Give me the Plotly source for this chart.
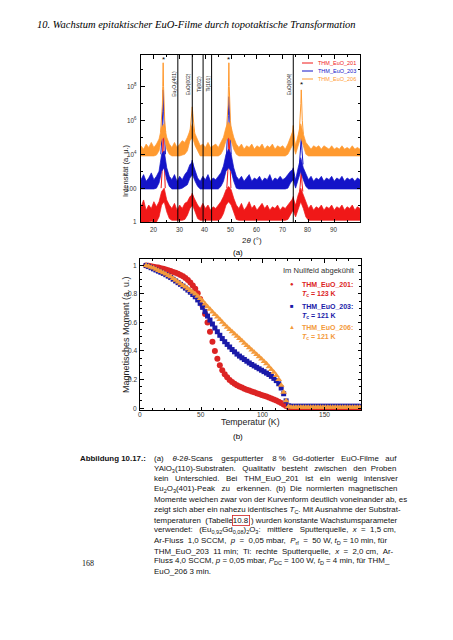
import plotly.graph_objects as go

# The page body adds an 8 px margin around the figure; positions below are
# given in reference-page pixels and converted with that offset.
OFF = 8
W, H = 453 - 2 * OFF, 640 - 2 * OFF
def px(x): return (x - OFF) / W
def py(y): return 1 - (y - OFF) / H

# ---------------- (a) XRD scans, log10 intensity ----------------
tt_grid = list(range(15, 101))

orange_hi = [4.5, 4.3, 4.6, 4.4, 4.7, 4.4, 4.6, 4.9, 5.6, 5.8,
             5.0, 4.6, 4.4, 4.7, 4.4, 4.6, 4.8, 4.7, 5.0, 5.4,
             5.8, 5.2, 4.8, 4.5, 4.6, 4.4, 4.7, 4.4, 4.5, 4.6,
             4.4, 4.7, 5.0, 5.6, 5.9, 5.6, 5.0, 4.6, 4.4, 4.6,
             4.3, 4.5, 4.4, 4.6, 4.3, 4.5, 4.4, 4.6, 4.3, 4.5,
             4.4, 4.6, 4.3, 4.5, 4.4, 4.5, 4.3, 4.6, 5.0, 5.4,
             4.5, 5.2, 5.8, 5.2, 4.7, 4.5, 4.3, 4.5, 4.4, 4.5,
             4.3, 4.5, 4.4, 4.3, 4.5, 4.3, 4.4, 4.3, 4.5, 4.3,
             4.4, 4.3, 4.5, 4.3, 4.4, 4.3]
orange_lo = [3.9, 3.9, 3.9, 3.9, 3.9, 3.9, 3.95, 4.2, 4.9, 5.0,
             4.3, 4.0, 3.9, 3.9, 3.9, 3.9, 3.95, 4.0, 4.2, 4.8,
             5.0, 4.5, 4.2, 3.9, 3.9, 3.9, 3.9, 3.9, 3.9, 3.9,
             3.9, 4.0, 4.3, 4.8, 5.0, 4.8, 4.3, 4.0, 3.9, 3.9,
             3.9, 3.9, 3.9, 3.9, 3.9, 3.9, 3.9, 3.9, 3.9, 3.9,
             3.9, 3.9, 3.9, 3.9, 3.9, 3.9, 3.9, 4.0, 4.3, 4.6,
             4.0, 4.5, 5.0, 4.5, 4.0, 3.9, 3.9, 3.9, 3.9, 3.9,
             3.9, 3.9, 3.9, 3.9, 3.9, 3.9, 3.9, 3.9, 3.9, 3.9,
             3.9, 3.9, 3.9, 3.9, 3.9, 3.9]
blue_hi = [2.5, 2.8, 2.4, 2.6, 2.9, 2.5, 2.7, 3.0, 4.0, 4.2,
           3.2, 2.7, 2.5, 2.8, 2.4, 2.7, 2.5, 2.8, 3.0, 3.4,
           3.5, 3.0, 2.6, 2.4, 2.7, 2.5, 2.8, 2.4, 2.6, 2.5,
           2.7, 2.9, 3.3, 4.0, 4.3, 4.0, 3.2, 2.7, 2.5, 2.7,
           2.4, 2.6, 2.8, 2.4, 2.6, 2.5, 2.7, 2.4, 2.6, 2.5,
           2.8, 2.4, 2.6, 2.5, 2.7, 2.5, 2.6, 2.8, 3.0, 3.1,
           2.5, 3.2, 3.8, 3.2, 2.8, 2.5, 2.7, 2.4, 2.6, 2.5,
           2.7, 2.4, 2.6, 2.5, 2.7, 2.4, 2.6, 2.5, 2.7, 2.4,
           2.6, 2.5, 2.6, 2.4, 2.6, 2.5]
blue_lo = [1.95, 1.95, 1.95, 1.95, 1.95, 1.95, 2.0, 2.3, 3.0, 3.2,
           2.5, 2.1, 1.95, 1.95, 1.95, 1.95, 2.0, 2.1, 2.2, 2.6,
           2.8, 2.4, 2.1, 1.95, 1.95, 1.95, 1.95, 1.95, 1.95, 1.95,
           1.95, 2.1, 2.4, 3.0, 3.2, 3.0, 2.4, 2.0, 1.95, 1.95,
           1.95, 1.95, 1.95, 1.95, 1.95, 1.95, 1.95, 1.95, 1.95, 1.95,
           1.95, 1.95, 1.95, 1.95, 1.95, 1.95, 1.95, 2.0, 2.3, 2.5,
           2.0, 2.5, 3.0, 2.5, 2.1, 1.95, 1.95, 1.95, 1.95, 1.95,
           1.95, 1.95, 1.95, 1.95, 1.95, 1.95, 1.95, 1.95, 1.95, 1.95,
           1.95, 1.95, 1.95, 1.95, 1.95, 1.95]
red_hi = [0.9, 1.3, 0.7, 1.0, 0.8, 1.2, 0.9, 1.2, 1.8, 2.0,
          1.3, 1.0, 0.8, 1.1, 0.7, 1.0, 0.8, 1.1, 1.2, 1.5,
          1.6, 1.3, 1.0, 0.8, 1.1, 0.8, 1.0, 0.7, 0.9, 0.8,
          1.0, 1.2, 1.5, 1.9, 2.1, 1.9, 1.4, 1.0, 0.8, 1.1,
          0.7, 0.9, 1.2, 0.8, 1.0, 0.7, 0.9, 1.1, 0.8, 1.0,
          0.7, 0.9, 0.8, 1.0, 0.7, 0.9, 0.8, 1.0, 1.2, 1.4,
          1.0, 1.6, 2.0, 1.6, 1.1, 0.8, 1.0, 0.7, 0.9, 0.8,
          1.0, 0.7, 0.9, 0.8, 1.0, 0.7, 0.9, 0.8, 1.0, 0.7,
          0.9, 0.8, 1.0, 0.7, 0.9, 0.8]
red_lo = [0.0, 0.0, 0.0, 0.0, 0.05, 0.0, 0.0, 0.3, 1.0, 1.2,
          0.6, 0.2, 0.1, 0.1, 0.1, 0.1, 0.1, 0.15, 0.4, 0.8,
          1.0, 0.6, 0.2, 0.1, 0.1, 0.1, 0.1, 0.1, 0.1, 0.1,
          0.1, 0.2, 0.5, 1.0, 1.2, 1.0, 0.5, 0.15, 0.1, 0.1,
          0.1, 0.1, 0.1, 0.1, 0.1, 0.1, 0.1, 0.1, 0.1, 0.1,
          0.1, 0.1, 0.1, 0.1, 0.1, 0.1, 0.1, 0.15, 0.4, 0.7,
          0.3, 0.8, 1.2, 0.8, 0.3, 0.1, 0.1, 0.1, 0.1, 0.1,
          0.1, 0.1, 0.1, 0.1, 0.1, 0.1, 0.1, 0.1, 0.1, 0.1,
          0.1, 0.1, 0.1, 0.1, 0.1, 0.1]

# peak profiles (None separates peaks)
orange_pk_tt = [22.6, 23.0, 23.3, 23.45, 23.6, 23.75, 23.9, 24.2, 24.6, None,
                34.0, 34.4, 34.7, 34.9, 35.1, 35.4, 35.8, None,
                48.1, 48.5, 48.8, 48.95, 49.1, 49.25, 49.4, 49.7, 50.1, None,
                73.5, 73.9, 74.1, 74.3, 74.7, None,
                76.4, 76.8, 77.05, 77.2, 77.35, 77.6, 78.0]
orange_pk_lg = [5.3, 6.0, 6.9, 8.0, 9.4, 8.0, 6.9, 6.0, 5.3, None,
                5.3, 5.9, 6.4, 6.8, 6.4, 5.9, 5.3, None,
                5.3, 6.0, 6.9, 8.0, 9.4, 8.0, 6.9, 6.0, 5.3, None,
                4.9, 5.4, 5.7, 5.3, 4.6, None,
                5.2, 6.0, 7.0, 7.8, 7.0, 6.0, 5.2]
blue_pk_tt = [22.7, 23.1, 23.4, 23.6, 23.8, 24.1, 24.5, None,
              34.2, 34.6, 34.9, 35.2, 35.6, None,
              48.2, 48.6, 48.9, 49.1, 49.3, 49.6, 50.0, None,
              73.6, 74.1, 74.6, None,
              76.5, 76.9, 77.2, 77.5, 77.9]
blue_pk_lg = [4.0, 5.0, 6.5, 7.8, 6.5, 5.0, 4.0, None,
              3.2, 3.5, 3.65, 3.4, 3.0, None,
              4.0, 5.0, 6.3, 7.4, 6.3, 5.0, 4.0, None,
              2.9, 3.2, 2.7, None,
              3.4, 4.2, 5.0, 4.2, 3.4]
red_pk_tt = [22.8, 23.2, 23.6, 24.0, 24.4, None,
             34.3, 34.9, 35.5, None,
             48.3, 48.7, 49.1, 49.5, 49.9, None,
             73.7, 74.1, 74.5, None,
             76.6, 76.9, 77.2, 77.5, 77.8]
red_pk_lg = [2.0, 3.0, 5.5, 3.0, 2.0, None,
             1.4, 1.7, 1.4, None,
             2.0, 3.0, 5.5, 3.0, 2.0, None,
             1.2, 1.5, 1.1, None,
             1.8, 2.3, 3.0, 2.3, 1.8]

ref_lines_tt = [29.3, 34.9, 39.1, 42.4, 74.1]
ref_lines_lbl = ["Eu<sub>2</sub>O<sub>3</sub>(401)", "EuO(002)", "Ti(002)", "Ti(101)", "EuO(004)"]
substrate_tt = [23.6, 49.1, 77.2]
substrate_star_lg = [9.62, 9.62, 8.12]

xrd_x_ticks = [20, 30, 40, 50, 60, 70, 80, 90]
xrd_y_tick_exp = [0, 2, 4, 6, 8]
xrd_y_tick_txt = ["1", "100", "10<sup>4</sup>", "10<sup>6</sup>", "10<sup>8</sup>"]

series_names = ["THM_EuO_201", "THM_EuO_203", "THM_EuO_206"]
col_a = ["#f01818", "#1414c8", "#ff9a30"]

# ---------------- (b) normalized magnetic moment ----------------
temp_K = list(range(5, 181, 2))
m_201 = [1.000, 0.997, 0.994, 0.991, 0.988, 0.985, 0.981, 0.977, 0.972, 0.966,
         0.960, 0.954, 0.948, 0.941, 0.933, 0.924, 0.912, 0.897, 0.880, 0.860,
         0.836, 0.805, 0.765, 0.715, 0.660, 0.600, 0.535, 0.465, 0.400, 0.345,
         0.300, 0.265, 0.237, 0.215, 0.197, 0.182, 0.170, 0.160, 0.151, 0.143,
         0.135, 0.128, 0.122, 0.116, 0.110, 0.104, 0.098, 0.092, 0.086, 0.080,
         0.074, 0.067, 0.060, 0.052, 0.044, 0.035, 0.025, 0.014, 0.006,
         0.004, 0.004, 0.004, 0.004, 0.004, 0.004, 0.004, 0.004, 0.004, 0.004,
         0.004, 0.004, 0.004, 0.004, 0.004, 0.004, 0.004, 0.004, 0.004, 0.004,
         0.004, 0.004, 0.004, 0.004, 0.004, 0.004, 0.004, 0.004, 0.004]
m_203 = [1.000, 0.992, 0.984, 0.976, 0.968, 0.960, 0.952, 0.944, 0.935, 0.925,
         0.915, 0.903, 0.891, 0.879, 0.867, 0.855, 0.841, 0.827, 0.812, 0.796,
         0.780, 0.758, 0.734, 0.706, 0.676, 0.645, 0.617, 0.589, 0.561, 0.535,
         0.510, 0.487, 0.465, 0.446, 0.428, 0.410, 0.394, 0.378, 0.364, 0.352,
         0.340, 0.328, 0.316, 0.305, 0.295, 0.285, 0.275, 0.265, 0.255, 0.245,
         0.235, 0.222, 0.208, 0.192, 0.170, 0.140, 0.100, 0.050, 0.015,
         0.012, 0.012, 0.012, 0.012, 0.012, 0.012, 0.012, 0.012, 0.012, 0.012,
         0.012, 0.012, 0.012, 0.012, 0.012, 0.012, 0.012, 0.012, 0.012, 0.012,
         0.012, 0.012, 0.012, 0.012, 0.012, 0.012, 0.012, 0.012, 0.012]
m_206 = [1.000, 0.994, 0.988, 0.982, 0.973, 0.965, 0.957, 0.949, 0.940, 0.930,
         0.920, 0.908, 0.896, 0.884, 0.872, 0.860, 0.848, 0.836, 0.824, 0.812,
         0.800, 0.784, 0.768, 0.750, 0.730, 0.710, 0.692, 0.674, 0.656, 0.638,
         0.620, 0.602, 0.584, 0.566, 0.550, 0.535, 0.519, 0.503, 0.487, 0.471,
         0.455, 0.439, 0.423, 0.407, 0.391, 0.375, 0.359, 0.343, 0.327, 0.310,
         0.290, 0.270, 0.250, 0.228, 0.200, 0.160, 0.110, 0.050, 0.010,
         0.006, 0.006, 0.006, 0.006, 0.006, 0.006, 0.006, 0.006, 0.006, 0.006,
         0.006, 0.006, 0.006, 0.006, 0.006, 0.006, 0.006, 0.006, 0.006, 0.006,
         0.006, 0.006, 0.006, 0.006, 0.006, 0.006, 0.006, 0.006, 0.006]
mag_x_ticks = [0, 50, 100, 150]
mag_y_ticks = [0, 0.2, 0.4, 0.6, 0.8, 1.0]
mag_y_tick_txt = ["0", "0.2", "0.4", "0.6", "0.8", "1"]
tc_labels = ["123 K", "121 K", "121 K"]
col_b = ["#dc2424", "#1a1aa8", "#f39a3c"]
sym_b = ["circle", "square", "triangle-up"]
size_b = [6, 5, 6]
sym_txt = ["●", "■", "▲"]

# ---------------- text-width helper (Liberation Sans = Arial metrics) ----------------
_AW = {' ': 278, '!': 278, '%': 889, '(': 333, ')': 333, ',': 278, '-': 333, '.': 278,
       ':': 278, ';': 278, '=': 584, '_': 556, '°': 400, 'θ': 556, 'ä': 556, 'ü': 556,
       'A': 667, 'B': 667, 'C': 722, 'D': 722, 'E': 667, 'F': 611, 'G': 778, 'H': 722,
       'I': 278, 'J': 500, 'K': 667, 'L': 556, 'M': 833, 'N': 722, 'O': 778, 'P': 667,
       'Q': 778, 'R': 722, 'S': 667, 'T': 611, 'U': 722, 'V': 667, 'W': 944, 'X': 667,
       'Y': 667, 'Z': 611, 'a': 556, 'b': 556, 'c': 500, 'd': 556, 'e': 556, 'f': 278,
       'g': 556, 'h': 556, 'i': 222, 'j': 222, 'k': 500, 'l': 222, 'm': 833, 'n': 556,
       'o': 556, 'p': 556, 'q': 556, 'r': 333, 's': 500, 't': 278, 'u': 556, 'v': 500,
       'w': 722, 'x': 500, 'y': 500, 'z': 500}

def text_width(s, fs):
    w, i, scale = 0.0, 0, 1.0
    while i < len(s):
        if s[i] == '<':
            j = s.index('>', i)
            tag = s[i + 1:j]
            if tag == 'sub':
                scale = 0.7
            elif tag == '/sub':
                scale = 1.0
            i = j + 1
            continue
        w += _AW.get(s[i], 556) * scale
        i += 1
    return w * fs / 1000.0

def justify(s, fs, target):
    words = s.split(' ')
    gaps = len(words) - 1
    if gaps <= 0:
        return s
    extra = target - text_width(s, fs)
    n = int(round(extra / (0.278 * fs)))
    if n <= 0:
        return s
    out = words[0]
    for k, wd in enumerate(words[1:]):
        add = n // gaps + (1 if k < n % gaps else 0)
        out += ' ' + '\u00a0' * add + wd
    return out

# ---------------- build figure ----------------
fig = go.Figure()

def lg(vals):
    return [None if v is None else 10 ** v for v in vals]

for lo, hi, ptt, plg, c in [(red_lo, red_hi, red_pk_tt, red_pk_lg, col_a[0]),
                            (blue_lo, blue_hi, blue_pk_tt, blue_pk_lg, col_a[1]),
                            (orange_lo, orange_hi, orange_pk_tt, orange_pk_lg, col_a[2])]:
    fig.add_trace(go.Scatter(x=tt_grid, y=lg(lo), mode="lines", line=dict(color=c, width=0.7),
                             xaxis="x", yaxis="y", hoverinfo="skip"))
    fig.add_trace(go.Scatter(x=tt_grid, y=lg(hi), mode="lines", line=dict(color=c, width=0.7),
                             fill="tonexty", fillcolor=c, xaxis="x", yaxis="y", hoverinfo="skip"))
    fig.add_trace(go.Scatter(x=ptt, y=lg(plg), mode="lines", line=dict(color=c, width=1.0),
                             connectgaps=False, xaxis="x", yaxis="y", hoverinfo="skip"))

for m, c, s, sz in zip([m_201, m_203, m_206], col_b, sym_b, size_b):
    fig.add_trace(go.Scatter(x=temp_K, y=m, mode="markers", xaxis="x2", yaxis="y2",
                             marker=dict(symbol=s, size=sz, color=c, line=dict(width=0)),
                             hoverinfo="skip"))

sans = "Liberation Sans, Arial, sans-serif"
serif = "Liberation Serif, Times New Roman, serif"

axis_common = dict(showline=True, linecolor="black", linewidth=1, mirror="ticks",
                   ticks="inside", ticklen=3.5, tickcolor="black", tickwidth=0.8,
                   showgrid=False, zeroline=False, showticklabels=False)

fig.update_layout(
    width=W, height=H, margin=dict(l=0, r=0, t=0, b=0),
    paper_bgcolor="white", plot_bgcolor="white", showlegend=False,
    xaxis=dict(domain=[px(141), px(360)], range=[15, 100], anchor="y", tickvals=xrd_x_ticks,
               minor=dict(ticks="inside", ticklen=2, dtick=5, tick0=15, tickcolor="black"),
               **axis_common),
    yaxis=dict(domain=[py(222), py(55)], type="log", range=[0, 9.86], anchor="x",
               tickvals=[10 ** e for e in xrd_y_tick_exp],
               minor=dict(ticks="inside", ticklen=2, tickvals=[10, 1e3, 1e5, 1e7, 1e9],
                          tickcolor="black"),
               **axis_common),
    xaxis2=dict(domain=[px(140), px(361)], range=[0, 180], anchor="y2", tickvals=mag_x_ticks,
                minor=dict(ticks="inside", ticklen=2, dtick=10, tick0=0, tickcolor="black"),
                **axis_common),
    yaxis2=dict(domain=[py(410), py(259)], range=[-0.014, 1.045], anchor="x2",
                tickvals=mag_y_ticks,
                minor=dict(ticks="inside", ticklen=2, dtick=0.05, tick0=0, tickcolor="black"),
                **axis_common),
)

shapes = []
ann = []
tick_font_a = dict(family=sans, size=6.3, color="#333333")
tick_font_b = dict(family=sans, size=6.6, color="#333333")

# tick labels placed tight to the frame (as in the reference)
for e, t in zip(xrd_y_tick_exp, xrd_y_tick_txt):
    ann.append(dict(xref="paper", yref="y", x=px(138.5), y=e, text=t, showarrow=False,
                    xanchor="right", yanchor="middle", font=tick_font_a))
for v in xrd_x_ticks:
    ann.append(dict(xref="x", yref="paper", x=v, y=py(229), text=str(v), showarrow=False,
                    xanchor="center", yanchor="middle", font=tick_font_a))
for v, t in zip(mag_y_ticks, mag_y_tick_txt):
    ann.append(dict(xref="paper", yref="y2", x=px(138.5), y=v, text=t, showarrow=False,
                    xanchor="right", yanchor="middle", font=tick_font_b))
for v in mag_x_ticks:
    ann.append(dict(xref="x2", yref="paper", x=v, y=py(414.8), text=str(v), showarrow=False,
                    xanchor="center", yanchor="middle", font=tick_font_b))

for x0, lbl in zip(ref_lines_tt, ref_lines_lbl):
    shapes.append(dict(type="line", xref="x", yref="y domain", x0=x0, x1=x0, y0=0, y1=1,
                       line=dict(color="black", width=1)))
    ann.append(dict(xref="x", yref="paper", x=x0, y=py(84), text=lbl, showarrow=False,
                    textangle=-90, xanchor="center", yanchor="middle", xshift=-4,
                    font=dict(family=sans, size=5, color="#222222")))

for x0, yl in zip(substrate_tt, substrate_star_lg):
    ann.append(dict(xref="x", yref="y", x=x0, y=yl, text="*", showarrow=False,
                    font=dict(family=sans, size=8, color="black"), yanchor="middle"))

# legend (a)
for i, (nm, c) in enumerate(zip(series_names, col_a)):
    yy = 63 + 8 * i
    shapes.append(dict(type="line", xref="paper", yref="paper", x0=px(302), x1=px(313),
                       y0=py(yy), y1=py(yy), line=dict(color=c, width=1)))
    ann.append(dict(xref="paper", yref="paper", x=px(316), y=py(yy), text=nm, showarrow=False,
                    xanchor="left", yanchor="middle", font=dict(family=sans, size=5.5, color=c)))

# axis titles (a)
ann.append(dict(xref="paper", yref="paper", x=px(119), y=py(142), text="Intensität (a. u.)",
                textangle=-90, showarrow=False, font=dict(family=sans, size=7.5, color="#222222")))
ann.append(dict(xref="paper", yref="paper", x=px(252), y=py(240), text="2<i>θ</i> (°)",
                showarrow=False, font=dict(family=sans, size=8, color="#222222")))
ann.append(dict(xref="paper", yref="paper", x=px(238), y=py(253), text="(a)",
                showarrow=False, font=dict(family=sans, size=8, color="black")))

# axis titles (b)
ann.append(dict(xref="paper", yref="paper", x=px(119), y=py(335), text="Magnetisches Moment (a. u.)",
                textangle=-90, showarrow=False, font=dict(family=sans, size=9, color="#222222")))
ann.append(dict(xref="paper", yref="paper", x=px(250), y=py(428.5), text="Temperatur (K)",
                showarrow=False, font=dict(family=sans, size=8.8, color="#222222")))
ann.append(dict(xref="paper", yref="paper", x=px(238), y=py(443), text="(b)",
                showarrow=False, font=dict(family=sans, size=8, color="black")))

# legend (b)
ann.append(dict(xref="paper", yref="paper", x=px(357), y=py(270), text="Im Nullfeld abgekühlt",
                showarrow=False, xanchor="right", font=dict(family=sans, size=7.6, color="#333333")))
leg_y = [284, 306, 327]
for i in range(3):
    y0 = leg_y[i]
    ann.append(dict(xref="paper", yref="paper", x=px(292), y=py(y0), text=sym_txt[i],
                    showarrow=False, font=dict(family=sans, size=6, color=col_b[i])))
    ann.append(dict(xref="paper", yref="paper", x=px(300), y=py(y0),
                    text="<b>" + series_names[i] + ":</b>", showarrow=False, xanchor="left",
                    font=dict(family=sans, size=7, color=col_b[i])))
    ann.append(dict(xref="paper", yref="paper", x=px(300), y=py(y0 + 9.5),
                    text="<b><i>T</i><sub>c</sub> = " + tc_labels[i] + "</b>", showarrow=False,
                    xanchor="left", font=dict(family=sans, size=7, color=col_b[i])))

# page header
ann.append(dict(xref="paper", yref="paper", x=px(35), y=py(17), xanchor="left",
                text="<i>10. Wachstum epitaktischer EuO-Filme durch topotaktische Transformation</i>",
                showarrow=False, font=dict(family=serif, size=10.5, color="black")))

# caption
CAP_FS = 7.9
CAP_L, CAP_R = 151.7, 395.7
caption_lines = [
    "(a) <i>θ</i>-2<i>θ</i>-Scans gesputterter 8\u00a0% Gd-dotierter EuO-Filme auf",
    "YAlO<sub>3</sub>(110)-Substraten. Qualitativ besteht zwischen den Proben",
    "kein Unterschied. Bei THM_EuO_201 ist ein wenig intensiver",
    "Eu<sub>2</sub>O<sub>3</sub>(401)-Peak zu erkennen. (b) Die normierten magnetischen",
    "Momente weichen zwar von der Kurvenform deutlich voneinander ab, es",
    "zeigt sich aber ein nahezu identisches <i>T</i><sub>C</sub>. Mit Ausnahme der Substrat-",
    None,
    "verwendet: (Eu<sub>0,92</sub>Gd<sub>0,08</sub>)<sub>2</sub>O<sub>3</sub>: mittlere Sputterquelle, <i>x</i> = 1,5\u00a0cm,",
    "Ar-Fluss 1,0\u00a0SCCM, <i>p</i> = 0,05\u00a0mbar, <i>P</i><sub>rf</sub> = 50\u00a0W, <i>t</i><sub>D</sub> = 10\u00a0min, für",
    "THM_EuO_203 11\u00a0min; Ti: rechte Sputterquelle, <i>x</i> = 2,0\u00a0cm, Ar-",
    "Fluss 4,0\u00a0SCCM, <i>p</i> = 0,05\u00a0mbar, <i>P</i><sub>DC</sub> = 100\u00a0W, <i>t</i><sub>D</sub> = 4\u00a0min, für THM_",
    "EuO_206 3\u00a0min.",
]
cap_font = dict(family=sans, size=CAP_FS, color="#111111")
for i, line in enumerate(caption_lines):
    yy = py(458.3 + 10.3 * i)
    if line is None:
        part1 = justify("temperaturen (Tabelle", CAP_FS, 232.3 - CAP_L)
        ann.append(dict(xref="paper", yref="paper", x=px(CAP_L), y=yy, text=part1,
                        showarrow=False, xanchor="left", yanchor="middle", font=cap_font))
        ann.append(dict(xref="paper", yref="paper", x=px(241), y=yy, text="10.8",
                        showarrow=False, xanchor="center", yanchor="middle", font=cap_font,
                        bordercolor="#d02020", borderwidth=0.8, borderpad=0))
        part3 = justify(") wurden konstante Wachstumsparameter", CAP_FS, CAP_R - 249.3)
        ann.append(dict(xref="paper", yref="paper", x=px(249.3), y=yy, text=part3,
                        showarrow=False, xanchor="left", yanchor="middle", font=cap_font))
        continue
    txt = line if i == len(caption_lines) - 1 else justify(line, CAP_FS, CAP_R - CAP_L)
    ann.append(dict(xref="paper", yref="paper", x=px(CAP_L), y=yy, text=txt,
                    showarrow=False, xanchor="left", yanchor="middle", font=cap_font))
ann.append(dict(xref="paper", yref="paper", x=px(148), y=py(458.3), text="<b>Abbildung 10.17.:</b>",
                showarrow=False, xanchor="right", yanchor="middle", font=cap_font))
ann.append(dict(xref="paper", yref="paper", x=px(80), y=py(570), text="168",
                showarrow=False, font=dict(family=serif, size=8, color="#111111")))

fig.update_layout(shapes=shapes, annotations=ann)
fig.write_html("out.html")
